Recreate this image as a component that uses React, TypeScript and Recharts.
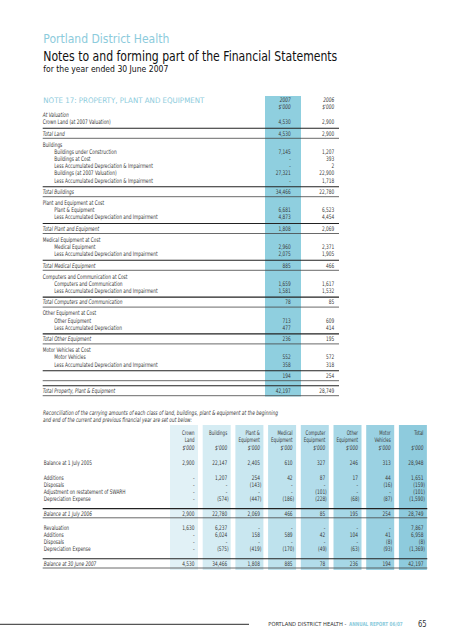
import React from 'react';
import { Surface, Layer, Rectangle } from 'recharts';

const FONT = "'Liberation Sans Narrow', 'DejaVu Sans Condensed', 'Roboto Condensed', 'Noto Sans', sans-serif";
const INK = '#3a3a3a';
const TEAL = '#8ccbdc';
const HILITE = '#8fcfdf';
const SMALL = 6.3;
const SQUEEZE = 0.76;

const noteYears = ['2007', '2006'];
const unitLabel = "$'000";

// note 17 table
type Kind = 'note' | 'head' | 'flat' | 'item' | 'total' | 'grand';
const ppeLabels = [
  'At Valuation',
  'Crown Land (at 2007 Valuation)',
  'Total Land',
  'Buildings',
  'Buildings under Construction',
  'Buildings at Cost',
  'Less Accumulated Depreciation & Impairment',
  'Buildings (at 2007 Valuation)',
  'Less Accumulated Depreciation & Impairment',
  'Total Buildings',
  'Plant and Equipment at Cost',
  'Plant & Equipment',
  'Less Accumulated Depreciation and Impairment',
  'Total Plant and Equipment',
  'Medical Equipment at Cost',
  'Medical Equipment',
  'Less Accumulated Depreciation and Impairment',
  'Total Medical Equipment',
  'Computers and Communication at Cost',
  'Computers and Communication',
  'Less Accumulated Depreciation and Impairment',
  'Total Computers and Communication',
  'Other Equipment at Cost',
  'Other Equipment',
  'Less Accumulated Depreciation',
  'Total Other Equipment',
  'Motor Vehicles at Cost',
  'Motor Vehicles',
  'Less Accumulated Depreciation and Impairment',
  '',
  'Total Property, Plant & Equipment',
];
const ppeKinds: Kind[] = [
  'note', 'flat', 'total',
  'head', 'item', 'item', 'item', 'item', 'item', 'total',
  'head', 'item', 'item', 'total',
  'head', 'item', 'item', 'total',
  'head', 'item', 'item', 'total',
  'head', 'item', 'item', 'total',
  'head', 'item', 'item', 'total',
  'grand',
];
const ppe2007 = [
  null, 4530, 4530,
  null, 7145, null, null, 27321, null, 34466,
  null, 6681, 4873, 1808,
  null, 2960, 2075, 885,
  null, 1659, 1581, 78,
  null, 713, 477, 236,
  null, 552, 358, 194,
  42197,
];
const ppe2006 = [
  null, 2900, 2900,
  null, 1207, 393, 2, 22900, 1718, 22780,
  null, 6523, 4454, 2069,
  null, 2371, 1905, 466,
  null, 1617, 1532, 85,
  null, 609, 414, 195,
  null, 572, 318, 254,
  28749,
];

// reconciliation table
const reconColumns = [
  ['Crown', 'Land'],
  ['Buildings', ''],
  ['Plant &', 'Equipment'],
  ['Medical', 'Equipment'],
  ['Computer', 'Equipment'],
  ['Other', 'Equipment'],
  ['Motor', 'Vehicles'],
  ['Total', ''],
];
const reconLabels = [
  'Balance at 1 July 2005',
  'Additions',
  'Disposals',
  'Adjustment on restatement of SWARH',
  'Depreciation Expense',
  'Balance at 1 July 2006',
  'Revaluation',
  'Additions',
  'Disposals',
  'Depreciation Expense',
  'Balance at 30 June 2007',
];
const reconKinds = ['open', 'first', 'item', 'item', 'item', 'total', 'first', 'item', 'item', 'item', 'total'];
const crownLand = [2900, null, null, null, null, 2900, 1630, null, null, null, 4530];
const buildings = [22147, 1207, null, null, -574, 22780, 6237, 6024, null, -575, 34466];
const plantEquipment = [2405, 254, -143, null, -447, 2069, null, 158, null, -419, 1808];
const medicalEquipment = [610, 42, null, null, -186, 466, null, 589, null, -170, 885];
const computerEquipment = [327, 87, null, -101, -228, 85, null, 42, null, -49, 78];
const otherEquipment = [246, 17, null, null, -68, 195, null, 104, null, -63, 236];
const motorVehicles = [313, 44, -16, null, -87, 254, null, 41, -8, -93, 194];
const reconTotal = [28948, 1651, -159, -101, -1590, 28749, 7867, 6958, -8, -1369, 42197];
const reconSeries = [crownLand, buildings, plantEquipment, medicalEquipment, computerEquipment, otherEquipment, motorVehicles, reconTotal];
const reconShades = ['#e1f1f6', '#d5ecf3', '#c9e7f0', '#bee2ed', '#b2dcea', '#a6d7e6', '#9ad1e2', '#8ecbdd'];

const fmt = (v: number | null) => {
  if (v === null) return '-';
  const s = Math.abs(v).toLocaleString('en-US');
  return v < 0 ? `(${s})` : s;
};

function T({ x, y, children, size = SMALL, anchor = 'start', italic = false, fill = INK, len, weight, sx }: any) {
  const squeeze = sx ?? (len ? 1 : SQUEEZE);
  return (
    <text
      x={0}
      y={0}
      transform={`translate(${x} ${y}) scale(${squeeze} 1)`}
      fontFamily={FONT}
      fontSize={size}
      textAnchor={anchor}
      dominantBaseline="central"
      fontStyle={italic ? 'italic' : 'normal'}
      fontWeight={weight}
      fill={fill}
      textLength={len}
      lengthAdjust={len ? 'spacingAndGlyphs' : undefined}
    >
      {children}
    </text>
  );
}

const Rule = ({ x1, x2, y, w = 0.9, c = '#333' }: any) => (
  <line x1={x1} x2={x2} y1={y} y2={y} stroke={c} strokeWidth={w} />
);

function Ppe() {
  const L = 42.7;
  const R = 339;
  const col07 = 290.7;
  const col06 = 334.3;
  const out: any[] = [];
  let y = 114.7;
  let lastLine = 0;
  ppeLabels.forEach((label, i) => {
    const k = ppeKinds[i];
    let ry: number;
    if (k === 'total' || k === 'grand') {
      const above = k === 'grand' ? lastLine + 5 : y - 7.2 + 6.4;
      ry = above + 5;
      lastLine = ry + 5;
      out.push(<Rule key={`a${i}`} x1={L} x2={R} y={above} w={1.1} c="#222" />);
      out.push(<Rule key={`b${i}`} x1={L} x2={R} y={lastLine} w={0.8} c="#444" />);
      y = lastLine + 6;
    } else {
      ry = y;
      y += 7.2;
    }
    const indent = k === 'item' ? 11.6 : 0;
    const italic = k === 'note' || k === 'total' || k === 'grand';
    out.push(
      <T key={`l${i}`} x={L + indent} y={ry} italic={italic}>
        {label}
      </T>
    );
    if (k !== 'note' && k !== 'head') {
      out.push(<T key={`x${i}`} x={col07} y={ry} anchor="end">{fmt(ppe2007[i])}</T>);
      out.push(<T key={`y${i}`} x={col06} y={ry} anchor="end">{fmt(ppe2006[i])}</T>);
    }
  });
  return (
    <Layer>
      <Rectangle x={265} y={96} width={36} height={300.5} fill={HILITE} />
      <T x={col07} y={100} anchor="end" italic>{noteYears[0]}</T>
      <T x={col07} y={106.7} anchor="end" italic>{unitLabel}</T>
      <T x={col06} y={100} anchor="end" italic>{noteYears[1]}</T>
      <T x={col06} y={106.7} anchor="end" italic>{unitLabel}</T>
      {out}
    </Layer>
  );
}

function Recon() {
  const L = 42.7;
  const R = 427.3;
  const top = 425;
  const bottom = 570;
  const colX = reconColumns.map((_, i) => 170 + i * 32.7);
  const out: any[] = [];
  let y = 462.3;
  reconLabels.forEach((label, i) => {
    const k = reconKinds[i];
    let ry: number;
    if (k === 'open') {
      ry = y;
      y += 15;
    } else if (k === 'total') {
      const above = y - 7.2 + 9.7;
      ry = above + 4.7;
      const below = ry + 4.5;
      out.push(<Rule key={`a${i}`} x1={L} x2={R} y={above} w={1.1} c="#222" />);
      out.push(<Rule key={`b${i}`} x1={L} x2={R} y={below} w={0.8} c="#444" />);
      y = below + 9.7;
    } else {
      ry = y;
      y += 7.2;
    }
    out.push(
      <T key={`l${i}`} x={L + 1} y={ry} italic={k === 'total'}>
        {label}
      </T>
    );
    reconSeries.forEach((series, c) => {
      const v = series[i];
      const rx = colX[c] + 24.5 + (v !== null && v < 0 ? 1.5 : 0);
      out.push(
        <T key={`v${i}-${c}`} x={rx} y={ry} anchor="end">
          {fmt(v)}
        </T>
      );
    });
  });
  return (
    <Layer>
      {colX.map((x, i) => (
        <Rectangle key={`bg${i}`} x={x} y={top} width={28} height={bottom - top} fill={reconShades[i]} />
      ))}
      {reconColumns.map((lines, i) => (
        <g key={`h${i}`}>
          <T x={colX[i] + 24.5} y={432.3} anchor="end" sx={0.7}>{lines[0]}</T>
          <T x={colX[i] + 24.5} y={440} anchor="end" sx={0.7}>{lines[1]}</T>
          <T x={colX[i] + 24.5} y={447.7} anchor="end" italic>{unitLabel}</T>
        </g>
      ))}
      {out}
    </Layer>
  );
}

export default function App() {
  return (
    <div style={{ position: 'absolute', left: 0, top: 0, width: 453, height: 640, background: '#fff' }}>
      <Surface width={453} height={640}>
        <Layer>
          <T x={43.3} y={38.5} size={12.5} fill={TEAL} len={126}>Portland District Health</T>
          <T x={43.3} y={56} size={13.5} fill="#111" len={294}>Notes to and forming part of the Financial Statements</T>
          <T x={43.3} y={69.2} size={8.3} fill="#111" len={125}>for the year ended 30 June 2007</T>
          <T x={43.3} y={100.3} size={7.6} fill={TEAL} len={161}>NOTE 17:  PROPERTY, PLANT AND EQUIPMENT</T>
        </Layer>
        <Ppe />
        <Layer>
          <T x={43} y={412.3} italic len={235}>
            Reconciliation of the carrying amounts of each class of land, buildings, plant &amp; equipment at the beginning
          </T>
          <T x={43} y={419.3} italic len={149}>
            and end of the current and previous financial year are set out below:
          </T>
        </Layer>
        <Recon />
        <Layer>
          <Rule x1={0} x2={249} y={624.3} w={1.2} c="#555" />
          <T x={268.3} y={624.3} size={5.6} fill="#333" len={78}>PORTLAND DISTRICT HEALTH -</T>
          <T x={349} y={624.3} size={5.6} fill={TEAL} weight="bold" len={53.7}>ANNUAL REPORT 06/07</T>
          <T x={418} y={624} size={8.5} fill="#333" len={8.7}>65</T>
        </Layer>
      </Surface>
    </div>
  );
}
